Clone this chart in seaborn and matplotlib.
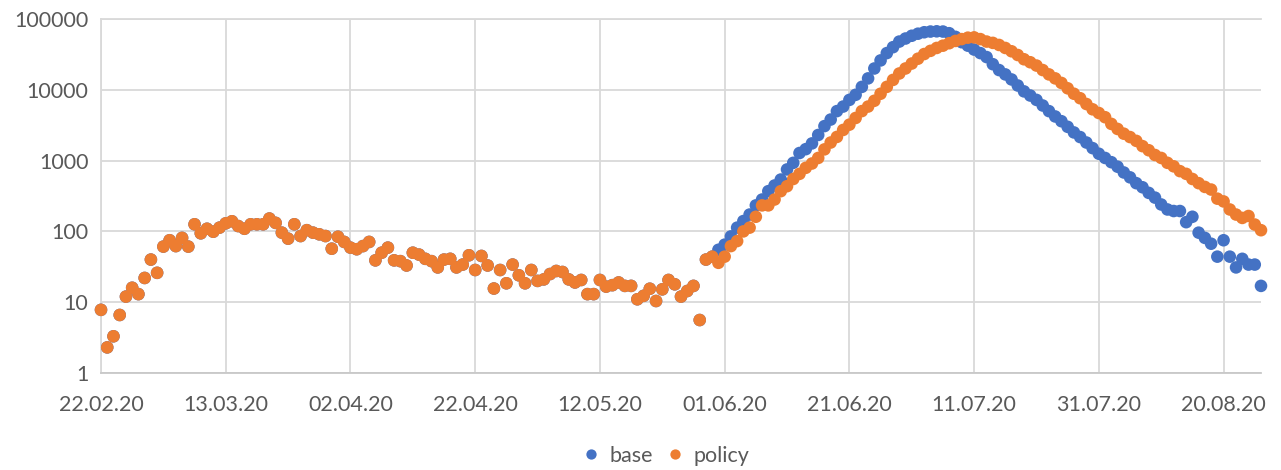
"""Daily counts, base vs policy scenario, log scale."""

import matplotlib
matplotlib.use('Agg')
import matplotlib.pyplot as plt
import matplotlib.dates as mdates
from matplotlib.lines import Line2D
from matplotlib.ticker import FixedLocator, NullLocator, FuncFormatter
import pandas as pd
import seaborn as sns

## DATA
START = '2020-02-22'

# days 0-98: both scenarios identical
shared = [7.8, 2.3, 3.3, 6.6, 12, 16, 13, 22, 40, 26,
          61, 75, 62, 81, 61, 126, 94, 109, 99, 113,
          130, 139, 119, 109, 126, 126, 126, 152, 132, 96,
          79, 126, 86, 104, 96, 91, 86, 57, 84, 71,
          59, 56, 62, 71, 39, 50, 59, 39, 38, 33,
          50, 47, 41, 38, 31, 40, 41, 31, 34, 46,
          28.5, 45, 33, 15.6, 28.5, 18.5, 34, 24, 18.5, 28.5,
          20, 21, 25, 27.6, 26.7, 21, 19, 20.6, 13, 13,
          20.6, 16.6, 17.4, 19, 17, 17, 11, 12.3, 15.5, 10.4,
          15.2, 20.6, 17.9, 12, 14.4, 17, 5.6, 40, 44]

# days 99-186
base_tail = [55, 65, 85, 113, 140, 173, 233, 282, 370, 445,
             540, 750, 930, 1280, 1450, 1750, 2300, 3070, 3800, 5000,
             5800, 7200, 8500, 11000, 14500, 20000, 26000, 33000, 40000, 48000,
             53000, 58000, 62000, 65000, 66500, 67000, 66500, 63000, 56000, 47000,
             42000, 37000, 33000, 29000, 23000, 19000, 16500, 14000, 11500, 9500,
             8300, 7200, 6000, 5000, 4200, 3600, 3000, 2500, 2150, 1800,
             1500, 1250, 1090, 950, 820, 680, 580, 480, 420, 350,
             300, 240, 204, 194, 194, 135, 161, 96, 81, 67,
             44, 75, 44, 31, 41, 34, 34, 17]

policy_tail = [36, 44, 62, 73, 100, 113, 161, 233, 233, 282,
               370, 435, 550, 650, 790, 910, 1090, 1440, 1800, 2160,
               2710, 3220, 4000, 5000, 5800, 7000, 8800, 11000, 13800, 17000,
               20000, 23500, 27500, 32000, 35500, 39000, 42000, 45500, 49000, 52000,
               54500, 55000, 52000, 48000, 46000, 43000, 39000, 35000, 31000, 27000,
               24500, 22000, 19000, 16500, 14500, 12500, 10500, 8800, 7600, 6300,
               5300, 4700, 4100, 3300, 2800, 2400, 2150, 1900, 1600, 1400,
               1200, 1090, 930, 830, 710, 650, 550, 480, 425, 390,
               290, 265, 204, 173, 155, 165, 125, 104]

series_names = ['base', 'policy']
y_ticks = [1, 10, 100, 1000, 10000, 100000]

## SETTINGS
COLOR_BASE = '#4472C4'
COLOR_POLICY = '#ED7D31'
GRID = '#D9D9D9'
TEXT = '#595959'
FONTSIZE = 15.5

base = shared + base_tail
policy = shared + policy_tail
dates = pd.date_range(START, periods=len(base), freq='D')

df = pd.DataFrame({
    'date': list(dates) * 2,
    'value': base + policy,
    'series': [series_names[0]] * len(base) + [series_names[1]] * len(policy),
})

sns.set_style('white')
plt.rcParams['font.family'] = ['Lato', 'DejaVu Sans']

fig, ax = plt.subplots(figsize=(12.81, 4.70), dpi=100)
fig.subplots_adjust(left=101/1281, right=1261/1281, top=1-19/470, bottom=1-373/470)

sns.scatterplot(data=df, x='date', y='value', hue='series',
                palette=[COLOR_BASE, COLOR_POLICY], s=82, linewidth=0,
                legend=False, ax=ax, zorder=3, clip_on=False)

# y axis: log, decades only
ax.set_yscale('log')
ax.set_ylim(1, 100000)
ax.yaxis.set_major_locator(FixedLocator(y_ticks))
ax.yaxis.set_minor_locator(NullLocator())
ax.yaxis.set_major_formatter(FuncFormatter(lambda v, p: f'{int(round(v))}'))

# x axis: a tick every 20 days
ax.set_xticks(pd.date_range(START, periods=10, freq='20D'))
ax.xaxis.set_major_formatter(mdates.DateFormatter('%d.%m.%y'))
ax.set_xlim(dates[0], dates[-1])

ax.grid(True, color=GRID, lw=1.3)
ax.set_axisbelow(True)
for side in ['left', 'top']:
    ax.spines[side].set_color(GRID)
    ax.spines[side].set_linewidth(1.3)
ax.spines['bottom'].set_color('#C8C8C8')
ax.spines['bottom'].set_linewidth(1.3)
ax.spines['right'].set_visible(False)

ax.tick_params(axis='both', length=0, labelsize=FONTSIZE, colors=TEXT)
ax.tick_params(axis='y', pad=9)
ax.tick_params(axis='x', pad=16)
ax.set(xlabel=None, ylabel=None)

handles = [Line2D([], [], ls='', marker='o', ms=7.4, mec='none', mfc=c)
           for c in [COLOR_BASE, COLOR_POLICY]]
fig.legend(handles, series_names, loc='center', bbox_to_anchor=(666/1281, 1-456/470),
           ncol=2, frameon=False, fontsize=FONTSIZE, labelcolor=TEXT,
           handletextpad=0.45, columnspacing=0.65, handlelength=0.8)

fig.savefig('out.png', dpi=100)
